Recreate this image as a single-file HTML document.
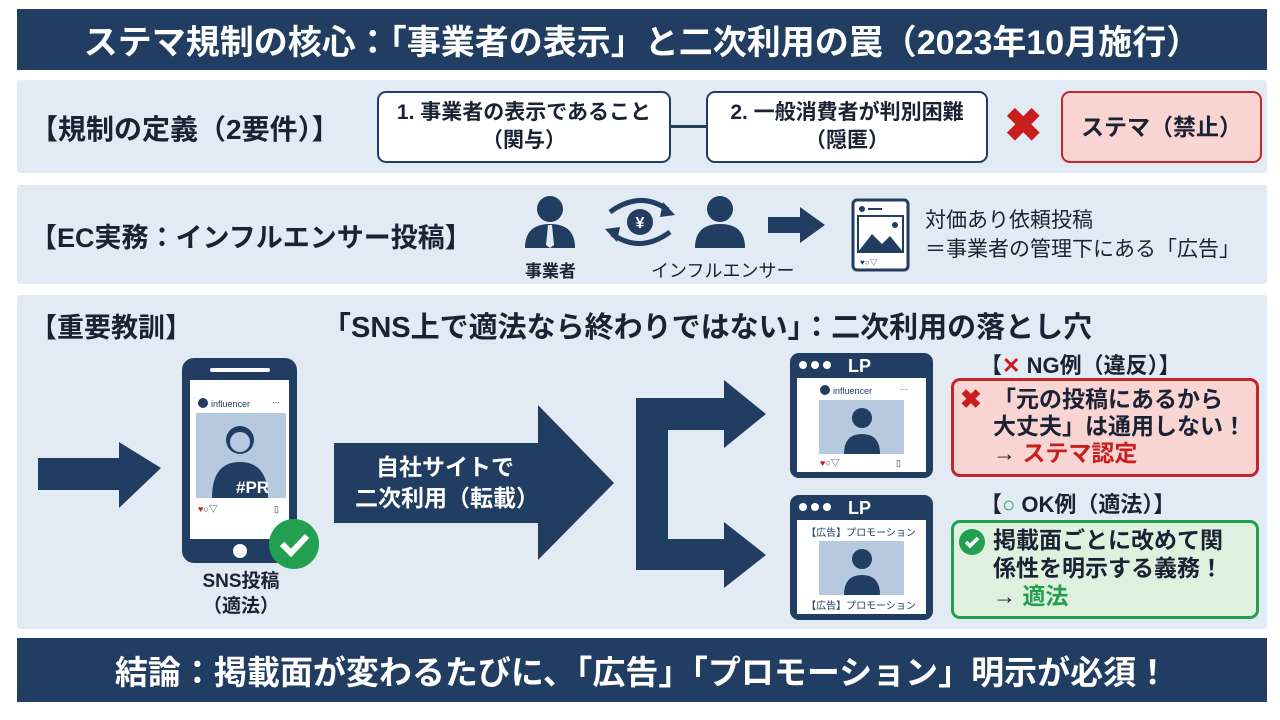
<!DOCTYPE html>
<html><head><meta charset="utf-8"><style>
*{margin:0;padding:0;box-sizing:border-box}
body{width:1280px;height:720px;background:#fff;position:relative;overflow:hidden;font-family:"Liberation Sans","Noto Sans CJK JP",sans-serif;color:#1a2233}
.a{position:absolute}
.bar{background:#213d62;color:#fff;font-weight:bold;display:flex;align-items:center;justify-content:center;white-space:nowrap}
.panel{background:#e2eaf3;border-radius:3px}
.b{font-weight:bold;white-space:nowrap}
.box{background:#fff;border:2.5px solid #213d62;border-radius:9px;display:flex;flex-direction:column;align-items:center;justify-content:center;font-size:21px;font-weight:bold;line-height:28px;white-space:nowrap}
</style></head><body>
<div class="a bar" style="left:17px;top:9px;width:1250px;height:61px;font-size:34px">ステマ規制の核心：「事業者の表示」と二次利用の罠（2023年10月施行）</div>

<div class="a panel" style="left:17px;top:80px;width:1250px;height:93px"></div>
<div class="a b" style="left:30px;top:108px;font-size:28px">【規制の定義（2要件）】</div>
<div class="a box" style="left:377px;top:91px;width:294px;height:72px"><div>1. 事業者の表示であること</div><div>（関与）</div></div>
<div class="a" style="left:671px;top:125px;width:36px;height:3px;background:#213d62"></div>
<div class="a box" style="left:706px;top:91px;width:282px;height:72px"><div>2. 一般消費者が判別困難</div><div>（隠匿）</div></div>
<div class="a b" style="left:1004px;top:100px;font-size:46px;color:#c81e1e;line-height:50px">✖</div>
<div class="a box" style="left:1061px;top:91px;width:201px;height:72px;background:#f8d4d3;border-color:#c0262a;font-size:23px">ステマ（禁止）</div>

<div class="a panel" style="left:17px;top:185px;width:1250px;height:99px"></div>
<div class="a b" style="left:30px;top:216px;font-size:27px">【EC実務：インフルエンサー投稿】</div>
<svg class="a" style="left:500px;top:190px" width="440" height="90">
<g fill="#213d62">
<circle cx="50" cy="19" r="13"/><path d="M25 58 Q25 34 50 34 Q75 34 75 58Z"/>
<path d="M48 35 L52 35 L54 55 L50 58 L46 55Z" fill="#e2eaf3"/>
<circle cx="220" cy="19" r="13"/><path d="M195 58 Q195 34 220 34 Q245 34 245 58Z"/>
<circle cx="140" cy="32" r="13"/>
<path d="M268 27 L300 27 L300 17 L325 35 L300 53 L300 43 L268 43Z"/>
</g>
<text x="140" y="38" fill="#fff" font-size="16" font-weight="bold" text-anchor="middle">¥</text>
<path d="M110 22 Q140 0 168 20" stroke="#213d62" stroke-width="5" fill="none"/><path d="M163 12 L175 25 L160 27Z" fill="#213d62"/>
<path d="M170 42 Q140 64 112 44" stroke="#213d62" stroke-width="5" fill="none"/><path d="M117 52 L105 39 L120 37Z" fill="#213d62"/>
<rect x="353" y="10" width="55" height="70" rx="4" fill="#fff" stroke="#213d62" stroke-width="3"/>
<circle cx="362" cy="19" r="3" fill="#213d62"/><rect x="368" y="18" width="14" height="2" fill="#213d62"/>
<rect x="358" y="26" width="45" height="36" fill="#fff" stroke="#213d62" stroke-width="2"/>
<path d="M358 62 L372 44 L382 54 L390 46 L403 62Z" fill="#213d62"/><circle cx="395" cy="35" r="3" fill="#213d62"/>
<text x="360" y="75" font-size="8" fill="#213d62">♥○▽</text>
</svg>
<div class="a b" style="left:525px;top:257px;font-size:17px">事業者</div>
<div class="a" style="left:651px;top:257px;font-size:18px">インフルエンサー</div>
<div class="a" style="left:925px;top:206px;font-size:21px;line-height:29px;white-space:nowrap">対価あり依頼投稿<br>＝事業者の管理下にある「広告」</div>

<div class="a panel" style="left:17px;top:295px;width:1250px;height:334px"></div>
<div class="a b" style="left:30px;top:306px;font-size:27px">【重要教訓】</div>
<div class="a b" style="left:322px;top:304px;font-size:29px">「SNS上で適法なら終わりではない」：二次利用の落とし穴</div>
<svg class="a" style="left:0;top:340px" width="800" height="290">
<g fill="#213d62">
<path d="M38 118 L119 118 L119 102 L161 128 L119 168 L119 150 L38 150Z"/>
<rect x="182" y="18" width="115" height="205" rx="12"/>
<path d="M334 103 L538 103 L538 65 L614 143 L538 220 L538 183 L334 183Z"/>
<path d="M636 58 L724 58 L724 40 L766 74 L724 108 L724 90 L668 90 L668 199 L724 199 L724 182 L766 215 L724 248 L724 230 L636 230Z"/>
</g>
<rect x="210" y="28" width="60" height="4" rx="2" fill="#fff"/>
<circle cx="240" cy="211" r="7" fill="#fff"/>
<rect x="190" y="40" width="99" height="159" fill="#fff"/>
<rect x="196" y="73" width="90" height="85" fill="#b7c9de"/>
<circle cx="203" cy="63" r="5" fill="#213d62"/>
<text x="211" y="67" font-size="9" fill="#213d62">influencer</text><text x="272" y="65" font-size="8" fill="#213d62">···</text>
<circle cx="240" cy="100" r="14" fill="#213d62"/><path d="M212 158 Q212 122 240 122 Q268 122 268 158Z" fill="#213d62"/>
<circle cx="240" cy="102" r="10" fill="#b7c9de"/>
<text x="236" y="153" font-size="17" font-weight="bold" fill="#fff">#PR</text>
<text x="198" y="172" font-size="9" fill="#213d62"><tspan fill="#c81e1e">♥</tspan>○▽</text><text x="274" y="172" font-size="9" fill="#213d62">▯</text>
<circle cx="294" cy="204" r="25" fill="#22a050"/>
<path d="M282 204 L291 213 L307 196" stroke="#fff" stroke-width="6" fill="none"/>
</svg>
<div class="a b" style="left:191px;top:569px;font-size:19px;text-align:center;width:100px;line-height:25px">SNS投稿<br>（適法）</div>
<div class="a b" style="left:355px;top:452px;color:#fff;font-size:23px;text-align:center;width:180px;line-height:31px">自社サイトで<br>二次利用（転載）</div>

<svg class="a" style="left:788px;top:350px" width="150" height="275">
<rect x="2" y="3" width="143" height="125" rx="9" fill="#213d62"/>
<rect x="9" y="28" width="129" height="94" fill="#fff"/>
<circle cx="15" cy="15" r="4" fill="#fff"/><circle cx="27" cy="15" r="4" fill="#fff"/><circle cx="39" cy="15" r="4" fill="#fff"/>
<text x="60" y="22" font-size="18" font-weight="bold" fill="#fff">LP</text>
<circle cx="37" cy="40" r="5" fill="#213d62"/><text x="45" y="44" font-size="9" fill="#213d62">influencer</text><text x="112" y="42" font-size="8" fill="#213d62">···</text>
<rect x="31" y="50" width="85" height="54" fill="#b7c9de"/>
<circle cx="74" cy="68" r="10" fill="#213d62"/><path d="M56 104 Q56 84 74 84 Q92 84 92 104Z" fill="#213d62"/>
<text x="32" y="116" font-size="9" fill="#213d62"><tspan fill="#c81e1e">♥</tspan>○▽</text><text x="108" y="116" font-size="9" fill="#213d62">▯</text>
<rect x="2" y="145" width="143" height="125" rx="9" fill="#213d62"/>
<rect x="9" y="170" width="129" height="94" fill="#fff"/>
<circle cx="15" cy="157" r="4" fill="#fff"/><circle cx="27" cy="157" r="4" fill="#fff"/><circle cx="39" cy="157" r="4" fill="#fff"/>
<text x="60" y="164" font-size="18" font-weight="bold" fill="#fff">LP</text>
<text x="73" y="186" font-size="10" fill="#213d62" text-anchor="middle">【広告】プロモーション</text>
<rect x="31" y="191" width="85" height="54" fill="#b7c9de"/>
<circle cx="74" cy="209" r="10" fill="#213d62"/><path d="M56 245 Q56 225 74 225 Q92 225 92 245Z" fill="#213d62"/>
<text x="73" y="259" font-size="10" fill="#213d62" text-anchor="middle">【広告】プロモーション</text>
</svg>

<div class="a b" style="left:980px;top:348px;font-size:22px">【<span style="color:#c81e1e">✕</span> NG例（違反）】</div>
<div class="a" style="left:951px;top:378px;width:308px;height:99px;background:#f8d4d3;border:3px solid #c0262a;border-radius:9px"></div>
<div class="a b" style="left:960px;top:384px;font-size:26px;color:#c81e1e">✖</div>
<div class="a b" style="left:993px;top:386px;font-size:23px;line-height:27px">「元の投稿にあるから<br>大丈夫」は通用しない！<br>→ <span style="color:#c81e1e">ステマ認定</span></div>

<div class="a b" style="left:980px;top:487px;font-size:22px">【<span style="color:#22a050">○</span> OK例（適法）】</div>
<div class="a" style="left:951px;top:520px;width:308px;height:99px;background:#dff0de;border:3px solid #22a050;border-radius:9px"></div>
<svg class="a" style="left:958px;top:528px" width="28" height="28"><circle cx="14" cy="14" r="13" fill="#22a050"/><path d="M8 14 L12 18 L20 10" stroke="#fff" stroke-width="3.5" fill="none"/></svg>
<div class="a b" style="left:993px;top:526px;font-size:23px;line-height:28px">掲載面ごとに改めて関<br>係性を明示する義務！<br>→ <span style="color:#22a050">適法</span></div>

<div class="a bar" style="left:17px;top:638px;width:1250px;height:64px;font-size:33px">結論：掲載面が変わるたびに、「広告」「プロモーション」明示が必須！</div>
</body></html>
